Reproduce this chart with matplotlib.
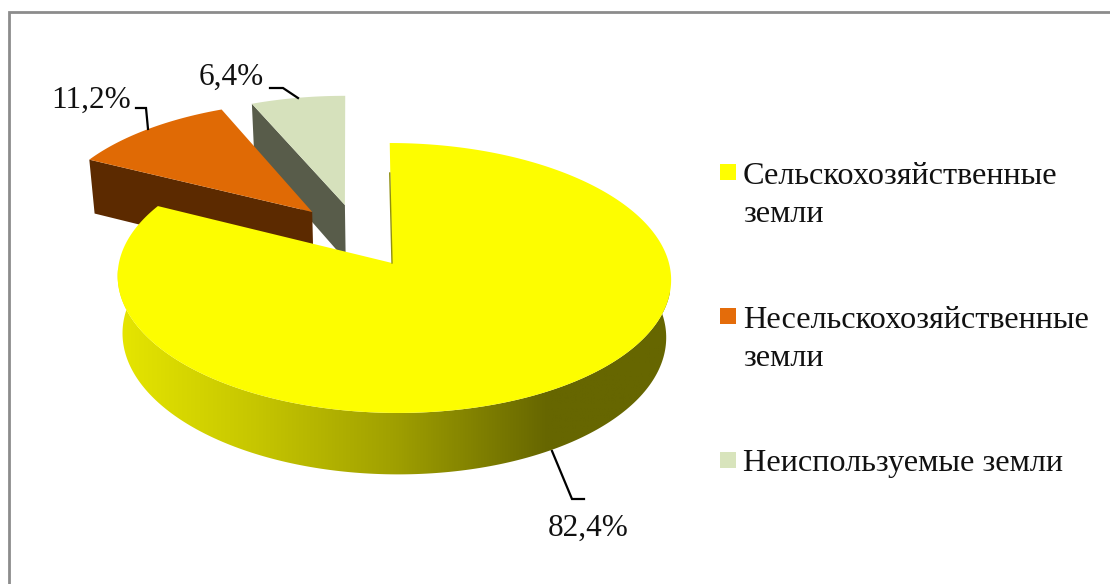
import numpy as np
import matplotlib
matplotlib.use("Agg")
import matplotlib.pyplot as plt
from matplotlib.patches import Polygon, Rectangle
from matplotlib.colors import LinearSegmentedColormap

categories = ["Сельскохозяйственные\nземли", "Несельскохозяйственные\nземли", "Неиспользуемые земли"]
values = [82.4, 11.2, 6.4]
value_labels = ["82,4%", "11,2%", "6,4%"]
top_colors = ["#fdfd00", "#e06a05", "#d6e1bc"]
side_colors = [None, "#5c2a00", "#585c4a"]
legend_colors = ["#ffff00", "#e46c0a", "#d8e4bc"]
explode = [(0.007, 0.0), (-0.297, 0.40), (-0.173, 0.457)]

plt.rcParams["font.family"] = ["Liberation Serif", "DejaVu Serif"]
FS_LEG = 23.2
FS_VAL = 22.5
fig = plt.figure(figsize=(11.10, 5.84), dpi=100)
ax = fig.add_axes([0, 0, 1, 1])
ax.set_xlim(0, 1110)
ax.set_ylim(584, 0)
ax.axis("off")

CX, CY, A, B, K, H, S, SK = 392.0, 263.0, 275.0, 133.3, 0.111, 58.0, 1.018, -4.0

def proj(u, v, low=False):
    w = 1 + K * v
    if low:
        w = w * S
        return CX + A * u / w + SK * v, CY - B * v / w + H / w
    return CX + A * u / w + SK * v, CY - B * v / w

def rim(t0, t1, off, low=False, n=200):
    th = np.radians(np.linspace(t0, t1, n))
    x, y = proj(np.sin(th) + off[0], np.cos(th) + off[1], low)
    return np.column_stack([x, y])

angles = 360 * np.cumsum([0] + values) / sum(values)

# frame
ax.plot([8.5, 8.5, 1110], [584, 11.5, 11.5], color="#8c8c8c", lw=2, solid_joinstyle="miter", zorder=1)

# exploded wedges, back to front
for i in (2, 1):
    off = explode[i]
    t0, t1 = angles[i], angles[i + 1]
    a_top = proj(off[0], off[1])
    a_low = proj(off[0], off[1], True)
    r_top = rim(t0, t0, off, n=1)[0]
    r_low = rim(t0, t0, off, True, n=1)[0]
    ax.add_patch(Polygon([a_top, r_top, r_low, a_low], closed=True, fc=side_colors[i], ec="none", zorder=2 + (2 - i) * 2))
    ax.add_patch(Polygon(np.vstack([[a_top], rim(t0, t1, off)]), closed=True, fc=top_colors[i], ec="none", zorder=3 + (2 - i) * 2))

# main wedge side with gradient
off = explode[0]
tl = rim(84, 276, off)
bl = rim(84, 276, off, True)
side = Polygon(np.vstack([tl, bl[::-1]]), closed=True, fc="none", ec="none", transform=ax.transData)
ax.add_patch(side)
stops = [(0.0, "#e6e600"), (0.25, "#c6c600"), (0.50, "#a0a000"), (0.78, "#666600"), (1.0, "#666600")]
cmap = LinearSegmentedColormap.from_list("side", stops)
grad = np.linspace(0, 1, 256)[None, :]
im = ax.imshow(grad, cmap=cmap, extent=(117, 670, 480, 270), aspect="auto", zorder=8, vmin=0, vmax=1)
im.set_clip_path(side)
ax.set_xlim(0, 1110)
ax.set_ylim(584, 0)

# main wedge top
a = proj(0.0, 0.0)
top = rim(angles[0], angles[1], off, n=500)
ax.add_patch(Polygon(np.vstack([[a], top]), closed=True, fc=top_colors[0], ec="none", zorder=9))
ax.plot([top[0][0], a[0]], [top[0][1] + 30, a[1]], color="#8f8f10", lw=1.0, zorder=10)

# leader lines
leaders = {0: [(552, 451), (572, 499), (584, 499)],
           1: [(136, 108), (146, 108), (148, 129)],
           2: [(270, 88), (283, 88), (298, 98)]}
for pts in leaders.values():
    xs, ys = zip(*pts)
    ax.plot(xs, ys, color="black", lw=1.6, zorder=7, solid_joinstyle="miter")

# value labels
label_pos = [(588, 528), (91, 100), (231, 77)]
for s, (x, y) in zip(value_labels, label_pos):
    ax.text(x, y, s, fontsize=FS_VAL, ha="center", va="center", color="#111111", zorder=11)

# legend
marker_y = [172, 316, 460]
for y, c, name in zip(marker_y, legend_colors, categories):
    ax.add_patch(Rectangle((720, y - 8), 16, 16, fc=c, ec="none", zorder=11))
    for j, line in enumerate(name.split("\n")):
        ax.text(743, y + 11.5 + j * 38.5, line, fontsize=FS_LEG, ha="left", va="baseline", color="#111111", zorder=11)

fig.savefig("out.png", dpi=100, facecolor="white")
